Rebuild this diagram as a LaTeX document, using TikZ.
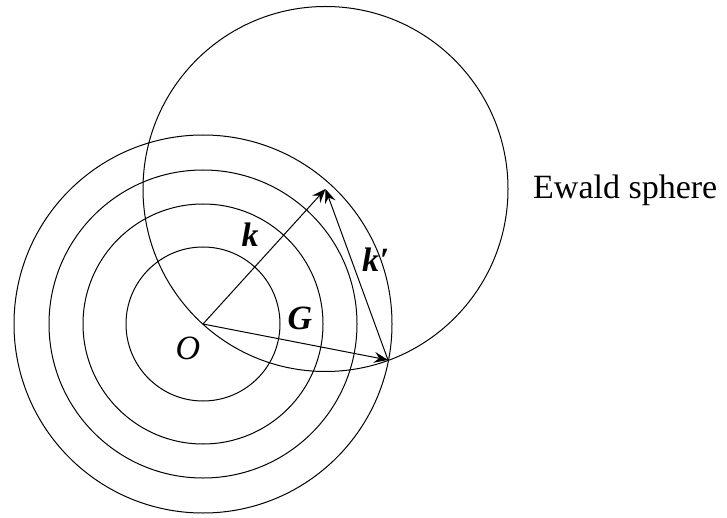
\documentclass[tikz,border=0pt]{standalone}
\usepackage{fontspec}
\setmainfont{Liberation Serif}
\usetikzlibrary{arrows.meta}
\tikzset{
  ring/.style={draw=black, line width=1pt},
  vec/.style={draw=black, line width=1pt, -{Stealth[length=14pt,width=11pt,inset=5pt]}},
  lbl/.style={font=\fontsize{34}{40}\selectfont\bfseries\itshape, inner sep=0pt},
}
\begin{document}
\begin{tikzpicture}[x=1pt,y=-1pt]
\useasboundingbox (0,0) rectangle (727,518);
\coordinate (O) at (203,324);
\coordinate (C) at (325.5,189);
\coordinate (P) at (388,360);
% reciprocal lattice shells
\draw[ring] (O) circle[radius=77];
\draw[ring] (O) circle[radius=120];
\draw[ring] (O) circle[radius=154];
\draw[ring] (O) circle[radius=189];
% Ewald sphere
\draw[ring] (C) circle[radius=182.5];
% vectors
\draw[vec] (O) -- (C);
\draw[vec] (P) -- (C);
\draw[vec] (O) -- (P);
% labels
\node[lbl] (lk) at (250,235) {k};
\node[lbl] (lkp) at (376,260) {k\kern1pt\textbf{\textup{\char"2032}}};
\node[lbl] (lG) at (300,318) {G};
\node[font=\fontsize{34}{40}\selectfont\itshape, inner sep=0pt] (lO) at (188,348) {O};
\node[font=\fontsize{34}{40}\selectfont, anchor=base west, inner sep=0pt] (le) at (533,199) {Ewald sphere};
\end{tikzpicture}
\end{document}
